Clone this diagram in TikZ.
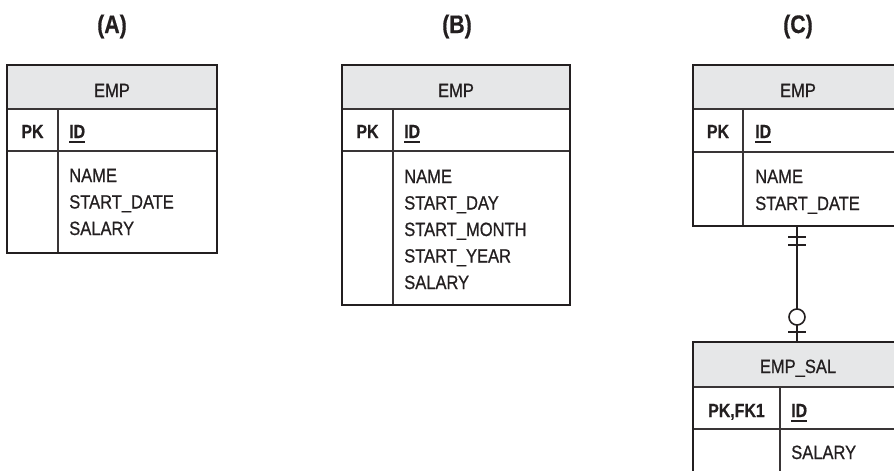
\documentclass[tikz,border=0pt]{standalone}
\usepackage{fontspec}
\setmainfont{Liberation Sans}[FakeStretch=0.86]
\newfontfamily\medfont{Liberation Sans}[FakeStretch=0.86, FakeBold=0.7]
\newfontfamily\heavyfont{Liberation Sans Bold}[FakeStretch=0.84, FakeBold=0.5]
\usetikzlibrary{calc}
\definecolor{ink}{HTML}{231F20}
\definecolor{hdr}{HTML}{E6E7E8}
\tikzset{
  outerline/.style={draw=ink, line width=1.4pt},
  innerline/.style={draw=ink!90, line width=1.2pt},
  hdrfill/.style={fill=hdr},
  hdrtxt/.style={inner sep=0pt, anchor=base, text=ink, font=\medfont\fontsize{14.4}{16}\selectfont},
  keytxt/.style={inner sep=0pt, anchor=base, text=ink, font=\heavyfont\fontsize{14.2}{16}\selectfont},
  idtxt/.style={inner sep=0pt, anchor=base west, text=ink, font=\heavyfont\fontsize{14.2}{16}\selectfont},
  bodytxt/.style={inner sep=0pt, anchor=base west, text=ink, font=\medfont\fontsize{14.4}{16}\selectfont},
  titletxt/.style={inner sep=0pt, anchor=base, text=ink, font=\heavyfont\fontsize{19}{22}\selectfont},
  uline/.style={draw=ink, line width=1.5pt},
  relline/.style={draw=ink, line width=1.2pt},
}
\begin{document}
\begin{tikzpicture}[x=0.75pt, y=-0.75pt]
\useasboundingbox (0,0) rectangle (894,471);
\clip (0,0) rectangle (894,471);

% ---------- (A) ----------
\node[titletxt] (ta) at (112,33) {(A)};
\fill[hdrfill] (7,65) rectangle (217,109);
\draw[innerline] (7,109) -- (217,109) (7,151) -- (217,151) (58,109) -- (58,253);
\draw[outerline] (7,65) rectangle (217,253);
\node[hdrtxt] (ah) at (112,97) {EMP};
\node[keytxt] (apk) at (32.5,138) {PK};
\node[idtxt] (aid) at (69,138) {ID};
\draw[uline] ([yshift=-3pt]aid.base west) -- ([yshift=-3pt]aid.base east);
\node[bodytxt] (a1) at (69,182) {NAME};
\node[bodytxt] (a2) at (69,208.5) {START\_DATE};
\node[bodytxt] (a3) at (69,235) {SALARY};

% ---------- (B) ----------
\node[titletxt] (tb) at (457,33) {(B)};
\fill[hdrfill] (342,65) rectangle (570,109);
\draw[innerline] (342,109) -- (570,109) (342,151) -- (570,151) (393,109) -- (393,305);
\draw[outerline] (342,65) rectangle (570,305);
\node[hdrtxt] (bh) at (456,97) {EMP};
\node[keytxt] (bpk) at (367.5,138) {PK};
\node[idtxt] (bid) at (404,138) {ID};
\draw[uline] ([yshift=-3pt]bid.base west) -- ([yshift=-3pt]bid.base east);
\node[bodytxt] (b1) at (404,183) {NAME};
\node[bodytxt] (b2) at (404,209.5) {START\_DAY};
\node[bodytxt] (b3) at (404,236) {START\_MONTH};
\node[bodytxt] (b4) at (404,262.5) {START\_YEAR};
\node[bodytxt] (b5) at (404,289) {SALARY};

% ---------- (C) ----------
\node[titletxt] (tc) at (798,33) {(C)};
\fill[hdrfill] (693,65) rectangle (903,109);
\draw[innerline] (693,109) -- (903,109) (693,152) -- (903,152) (743,109) -- (743,226);
\draw[outerline] (693,65) rectangle (903,226);
\node[hdrtxt] (ch) at (798,97) {EMP};
\node[keytxt] (cpk) at (718,138) {PK};
\node[idtxt] (cid) at (755,138) {ID};
\draw[uline] ([yshift=-3pt]cid.base west) -- ([yshift=-3pt]cid.base east);
\node[bodytxt] (c1) at (755,183) {NAME};
\node[bodytxt] (c2) at (755,210) {START\_DATE};

\fill[hdrfill] (693,342) rectangle (903,387);
\draw[innerline] (693,387) -- (903,387) (693,429) -- (903,429) (780,387) -- (780,480);
\draw[outerline] (693,342) rectangle (903,480);
\node[hdrtxt] (sh) at (798,373) {EMP\_SAL};
\node[keytxt] (spk) at (736.5,417) {PK,FK1};
\node[idtxt] (sid) at (791,417) {ID};
\draw[uline] ([yshift=-3pt]sid.base west) -- ([yshift=-3pt]sid.base east);
\node[bodytxt] (s1) at (791,459) {SALARY};

% ---------- relationship ----------
\coordinate (empbot) at (797,226);
\coordinate (saltop) at (797,342);
\coordinate (circ) at (797,317);
\draw[relline] (empbot) -- ($(circ)+(0,-8)$);
\draw[relline] ($(circ)+(0,8)$) -- (saltop);
\draw[relline] (circ) circle[radius=6pt];
\draw[relline] ($(empbot)+(-9,11)$) -- ($(empbot)+(9,11)$);
\draw[relline] ($(empbot)+(-9,19)$) -- ($(empbot)+(9,19)$);
\draw[relline] ($(saltop)+(-9,-10)$) -- ($(saltop)+(9,-10)$);
\end{tikzpicture}
\end{document}
